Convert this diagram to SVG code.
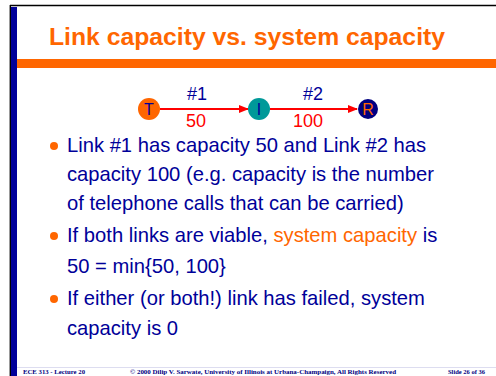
<svg xmlns="http://www.w3.org/2000/svg" width="496" height="376" viewBox="0 0 496 376">
<defs>
<style>
.body{font-family:"Liberation Sans",Arial,sans-serif;font-size:20.2px;fill:#000099}
.hl{fill:#FF6600}
.lab{font-family:"Liberation Sans",Arial,sans-serif;font-size:18px;text-anchor:middle}
.node{font-family:"Liberation Sans",Arial,sans-serif;font-size:16px;text-anchor:middle}
.foot{font-family:"Liberation Serif","Times New Roman",serif;font-size:7px;font-weight:bold;fill:#000080}
.link{stroke:#FF0000;stroke-width:2;fill:none}
.bullet{fill:#FF6600}
</style>
<marker id="ah" markerWidth="10" markerHeight="8" refX="9" refY="4" orient="auto" markerUnits="userSpaceOnUse">
<path d="M0,0 L10,4 L0,8 z" fill="#FF0000"/>
</marker>
</defs>
<rect x="0" y="0" width="496" height="376" fill="#FFFFFF"/>
<!-- frame -->
<line x1="9.5" y1="5" x2="9.5" y2="376" stroke="#999999" stroke-width="1"/>
<line x1="10" y1="5.5" x2="496" y2="5.5" stroke="#000000" stroke-width="1.5"/>
<line x1="10.5" y1="5" x2="10.5" y2="376" stroke="#000000" stroke-width="1"/>
<rect x="11" y="7" width="6" height="369" fill="#000099"/>
<rect x="17" y="59" width="479" height="9" fill="#FF6600"/>
<line x1="17" y1="367.5" x2="496" y2="367.5" stroke="#DDDDF0" stroke-width="1"/>
<!-- title -->
<text x="49" y="45" font-family="'Liberation Sans',Arial,sans-serif" font-size="24.7" font-weight="bold" fill="#FF6600" textLength="396" lengthAdjust="spacingAndGlyphs">Link capacity vs. system capacity</text>
<!-- connectors -->
<g id="connectors">
<line class="link" x1="160" y1="109" x2="248" y2="109" marker-end="url(#ah)"/>
<line class="link" x1="270" y1="109" x2="357" y2="109" marker-end="url(#ah)"/>
<text class="lab" x="197" y="100" fill="#000099">#1</text>
<text class="lab" x="196" y="127" fill="#FF0000">50</text>
<text class="lab" x="313" y="100" fill="#000099">#2</text>
<text class="lab" x="308" y="127" fill="#FF0000">100</text>
</g>
<g id="node-T">
<circle cx="149" cy="109" r="11" fill="#FF6600"/>
<text class="node" x="149" y="115" fill="#000099">T</text>
</g>
<g id="node-I">
<circle cx="259" cy="109" r="11" fill="#009999"/>
<text class="node" x="259" y="115" fill="#000099">I</text>
</g>
<g id="node-R">
<circle cx="368" cy="109" r="10" fill="#000080"/>
<text class="node" x="368" y="115" fill="#FF6600">R</text>
</g>
<!-- bullets -->
<circle class="bullet" cx="54" cy="146" r="4"/>
<text class="body" x="67" y="152">Link #1 has capacity 50 and Link #2 has</text>
<text class="body" x="67" y="181">capacity 100 (e.g. capacity is the number</text>
<text class="body" x="67" y="210">of telephone calls that can be carried)</text>
<circle class="bullet" cx="54" cy="236" r="4"/>
<text class="body" x="67" y="242">If both links are viable, <tspan class="hl">system capacity</tspan> is</text>
<text class="body" x="67" y="273">50 = min{50, 100}</text>
<circle class="bullet" cx="54" cy="299" r="4"/>
<text class="body" x="67" y="305">If either (or both!) link has failed, system</text>
<text class="body" x="67" y="335">capacity is 0</text>
<!-- footer -->
<text class="foot" x="23" y="374" textLength="62" lengthAdjust="spacingAndGlyphs">ECE 313 - Lecture 20</text>
<text class="foot" x="130" y="374" textLength="266" lengthAdjust="spacingAndGlyphs">© 2000 Dilip V. Sarwate, University of Illinois at Urbana-Champaign, All Rights Reserved</text>
<text class="foot" x="448" y="374" textLength="37" lengthAdjust="spacingAndGlyphs">Slide 26 of 36</text>
</svg>
